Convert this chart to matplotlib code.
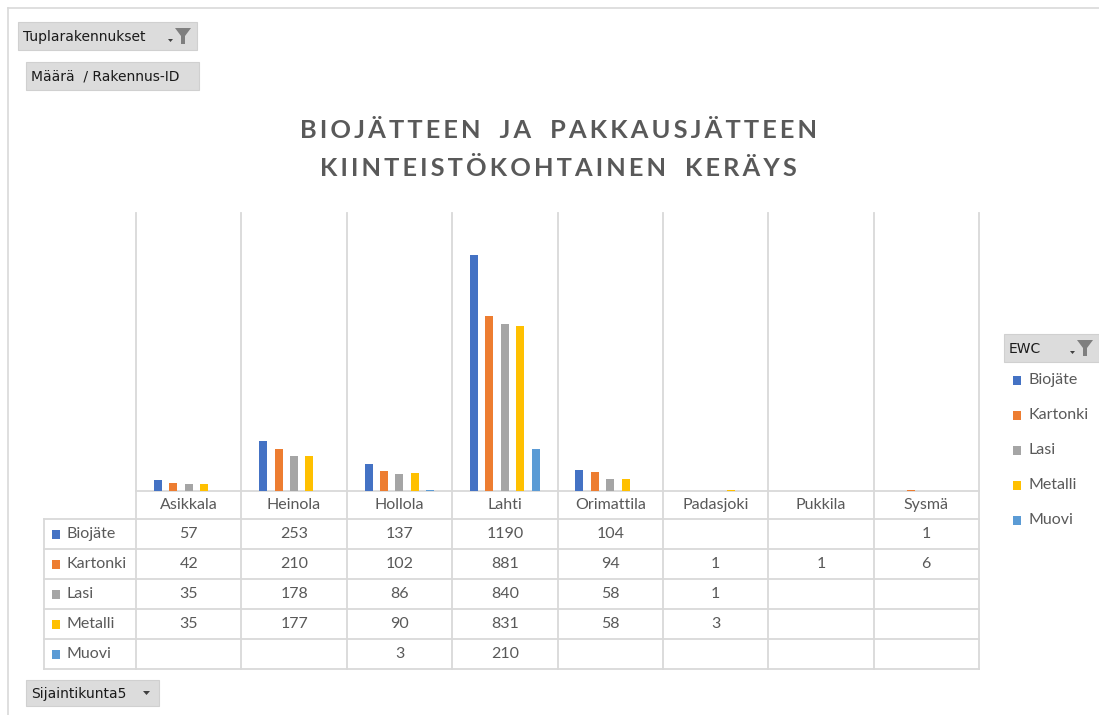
import numpy as np
import matplotlib.pyplot as plt
from matplotlib.patches import Rectangle, Polygon

# data
kunnat = ['Asikkala', 'Heinola', 'Hollola', 'Lahti', 'Orimattila', 'Padasjoki', 'Pukkila', 'Sysmä']
sarjat = ['Biojäte', 'Kartonki', 'Lasi', 'Metalli', 'Muovi']
nan = np.nan
biojate = [57, 253, 137, 1190, 104, nan, nan, 1]
kartonki = [42, 210, 102, 881, 94, 1, 1, 6]
lasi = [35, 178, 86, 840, 58, 1, nan, nan]
metalli = [35, 177, 90, 831, 58, 3, nan, nan]
muovi = [nan, nan, 3, 210, nan, nan, nan, nan]
arvot = [biojate, kartonki, lasi, metalli, muovi]

varit = ['#4472C4', '#ED7D31', '#A5A5A5', '#FFC000', '#5B9BD5']
grid_color = '#D9D9D9'
text_color = '#595959'
font = ['Lato', 'DejaVu Sans']

W, H = 1099, 715
fig = plt.figure(figsize=(W / 100, H / 100), dpi=100)
fig.patch.set_facecolor('white')

# pixel layout
px_left, px_right = 136, 979
px_top, px_base = 213, 491
col_w = (px_right - px_left) / len(kunnat)

# overlay axes in pixel coordinates for table, buttons, borders
bg = fig.add_axes([0, 0, 1, 1])
bg.set_xlim(0, W)
bg.set_ylim(H, 0)
bg.axis('off')

ax = fig.add_axes([px_left / W, (H - px_base) / H, (px_right - px_left) / W, (px_base - px_top) / H])
ax.set_xlim(-0.5, len(kunnat) - 0.5)
ax.set_ylim(0, 1400)
ax.axis('off')
ax.patch.set_alpha(0)

x = np.arange(len(kunnat))
slot = 0.146
for j, (s, vals) in enumerate(zip(sarjat, arvot)):
    ax.bar(x + (j - 2) * slot, vals, width=0.076, color=varit[j], zorder=3)

# outer chart border
bg.plot([8, W], [8, 8], color=grid_color, lw=1.2)
bg.plot([8, 8], [8, H], color=grid_color, lw=1.2)

# title with widened letter spacing
def spaced(t):
    return '\u2009'.join(t).replace('\u2009 \u2009', '\u2009\u2002\u2009')

bg.text(558, 130, spaced('BIOJÄTTEEN JA PAKKAUSJÄTTEEN'), ha='center', va='center',
        fontsize=18.3, fontweight='bold', color=text_color, family=font)
bg.text(558, 168, spaced('KIINTEISTÖKOHTAINEN KERÄYS'), ha='center', va='center',
        fontsize=18.3, fontweight='bold', color=text_color, family=font)

# grid / table lines
row_top = 519
row_h = 30
n_rows = len(sarjat)
table_bottom = row_top + n_rows * row_h
for k in range(len(kunnat) + 1):
    xx = px_left + k * col_w
    bg.plot([xx, xx], [px_top, table_bottom], color=grid_color, lw=1.3, zorder=1)
bg.plot([px_left, px_right], [px_base, px_base], color=grid_color, lw=1.3)
for r in range(n_rows + 1):
    yy = row_top + r * row_h
    bg.plot([44, px_right], [yy, yy], color=grid_color, lw=1.3)
bg.plot([44, 44], [row_top, table_bottom], color=grid_color, lw=1.3)

for i, k in enumerate(kunnat):
    bg.text(px_left + (i + 0.5) * col_w, 505, k, ha='center', va='center',
            fontsize=11.5, color=text_color, family=font)

for r, (s, vals) in enumerate(zip(sarjat, arvot)):
    yc = row_top + (r + 0.5) * row_h
    bg.add_patch(Rectangle((52, yc - 4.5), 8, 9, color=varit[r], lw=0))
    bg.text(66, yc, s, ha='left', va='center', fontsize=11.5, color=text_color, family=font)
    for i, v in enumerate(vals):
        if not np.isnan(v):
            bg.text(px_left + (i + 0.5) * col_w, yc, f'{int(v)}', ha='center', va='center',
                    fontsize=11.5, color=text_color, family=font)

# pivot field buttons
def button(x0, y0, w, h, label, funnel=False, arrow=True):
    bg.add_patch(Rectangle((x0, y0), w, h, facecolor='#DCDCDC', edgecolor='#D0D0D0', lw=0.8))
    bg.text(x0 + 5, y0 + h / 2 + 1, label, ha='left', va='center', fontsize=10,
            color='#1A1A1A', family=['DejaVu Sans'])
    if funnel:
        fx = x0 + w - 22
        fy = y0 + 6
        bg.add_patch(Polygon([[fx, fy], [fx + 16, fy], [fx + 10, fy + 8], [fx + 10, fy + 16],
                              [fx + 6, fy + 16], [fx + 6, fy + 8]], closed=True, color='#7F7F7F', lw=0))
        bg.add_patch(Polygon([[fx - 7, fy + 11], [fx - 2, fy + 11], [fx - 4.5, fy + 14]],
                             closed=True, color='#404040', lw=0))
    elif arrow:
        ax0 = x0 + w - 16
        ay0 = y0 + h / 2 - 2
        bg.add_patch(Polygon([[ax0, ay0], [ax0 + 7, ay0], [ax0 + 3.5, ay0 + 4]],
                             closed=True, color='#404040', lw=0))

button(18, 22, 179, 28, 'Tuplarakennukset', funnel=True)
button(26, 62, 173, 28, 'Määrä  / Rakennus-ID', arrow=False)
button(26, 680, 133, 26, 'Sijaintikunta5')
button(1004, 334, 95, 28, 'EWC', funnel=True)

# legend
for r, s in enumerate(sarjat):
    yc = 380 + r * 35
    bg.add_patch(Rectangle((1013, yc - 4.5), 8, 9, color=varit[r], lw=0))
    bg.text(1028, yc, s, ha='left', va='center', fontsize=11.5, color=text_color, family=font)

fig.savefig('out.png', dpi=100, facecolor='white')
